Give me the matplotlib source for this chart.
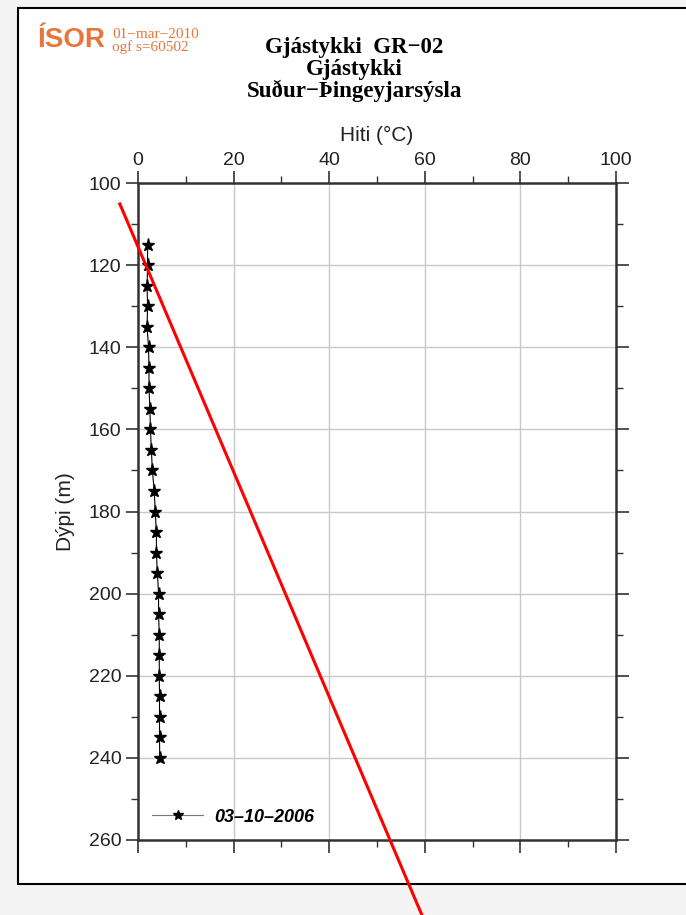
import matplotlib.pyplot as plt
from matplotlib.patches import Rectangle

# depth profile, measured 03-10-2006
depth = [115, 120, 125, 130, 135, 140, 145, 150, 155, 160, 165, 170, 175,
         180, 185, 190, 195, 200, 205, 210, 215, 220, 225, 230, 235, 240]
temp = [2.0, 2.0, 1.9, 2.0, 1.9, 2.2, 2.3, 2.3, 2.5, 2.6, 2.8, 3.0, 3.4,
        3.6, 3.85, 3.85, 4.05, 4.3, 4.3, 4.45, 4.45, 4.45, 4.5, 4.5, 4.5, 4.55]
series_label = "03\u201310\u20132006"

# red annotation line drawn over the chart
red_line_temp = [-3.8, 59.4]
red_line_depth = [105.1, 278.3]

x_ticks = [0, 20, 40, 60, 80, 100]
y_ticks = [100, 120, 140, 160, 180, 200, 220, 240, 260]

orange = "#e8763a"

fig = plt.figure(figsize=(6.86, 9.15), dpi=100)
fig.patch.set_facecolor("#f4f4f4")
fig.patches.append(Rectangle((18 / 686, 31 / 915), 1.0, 876 / 915,
                             transform=fig.transFigure, facecolor="white",
                             edgecolor="black", linewidth=1.5, zorder=-10))

ax = fig.add_axes([138 / 686, 75 / 915, 478 / 686, 657 / 915])
ax.patch.set_alpha(0)
ax.plot(temp, depth, color="black", linewidth=0.8, marker="*",
        markersize=9.5, label=series_label, zorder=3)
ax.plot(red_line_temp, red_line_depth, color="red", linewidth=2.2,
        clip_on=False, zorder=5)

ax.set_xlim(0, 100)
ax.set_ylim(260, 100)
ax.set_xticks(x_ticks)
ax.set_xticks(range(10, 100, 20), minor=True)
ax.set_yticks(y_ticks)
ax.set_yticks(range(110, 260, 20), minor=True)
ax.xaxis.tick_top()
ax.xaxis.set_label_position("top")
ax.tick_params(which="both", direction="out", top=True, bottom=True,
               left=True, right=True, labelbottom=False, labelright=False,
               color="#333333")
ax.tick_params(which="major", length=9, width=1.2, labelsize=14, pad=3)
ax.tick_params(axis="x", which="major", pad=1)
ax.tick_params(which="minor", length=5, width=1.0)
for t in ax.get_xticklabels() + ax.get_yticklabels():
    t.set_family("Liberation Sans")
    t.set_color("#222222")
ax.grid(True, which="major", color="#c8c8c8", linewidth=1.0)
for s in ax.spines.values():
    s.set_linewidth(1.8)
    s.set_color("#333333")

ax.set_xlabel("Hiti (\u00b0C)", fontsize=15, family="Liberation Sans",
              labelpad=8, color="#222222")
ax.set_ylabel("D\u00fdpi (m)", fontsize=15, family="Liberation Sans",
              labelpad=10, color="#222222")

leg = ax.legend(loc="lower left", frameon=False, handlelength=2.8,
                handletextpad=0.6, borderaxespad=0.4,
                bbox_to_anchor=(0.0, 0.0), markerscale=0.8,
                prop={"family": "Liberation Sans", "size": 13,
                      "weight": "bold", "style": "italic"})
leg.get_lines()[0].set_color("#777777")
leg.get_lines()[0].set_markerfacecolor("black")
leg.get_lines()[0].set_markeredgecolor("black")

# header texts
fig.text(38 / 686, 1 - 40 / 915, "\u00cdSOR", color=orange, fontsize=20,
         fontweight="bold", family="Liberation Sans", va="center")
fig.text(112 / 686, 1 - 34 / 915, "01\u2212mar\u22122010", color=orange,
         fontsize=11, family="Liberation Serif", va="center")
fig.text(112 / 686, 1 - 47 / 915, "ogf s=60502", color=orange,
         fontsize=11, family="Liberation Serif", va="center")
for i, line in enumerate(["Gj\u00e1stykki  GR\u221202", "Gj\u00e1stykki",
                          "Su\u00f0ur\u2212\u00deingeyjars\u00fdsla"]):
    fig.text(354 / 686, 1 - (47 + 22 * i) / 915, line, fontsize=16.5,
             fontweight="bold", family="Liberation Serif",
             ha="center", va="center")

fig.savefig("out.png", dpi=100, facecolor=fig.get_facecolor())
